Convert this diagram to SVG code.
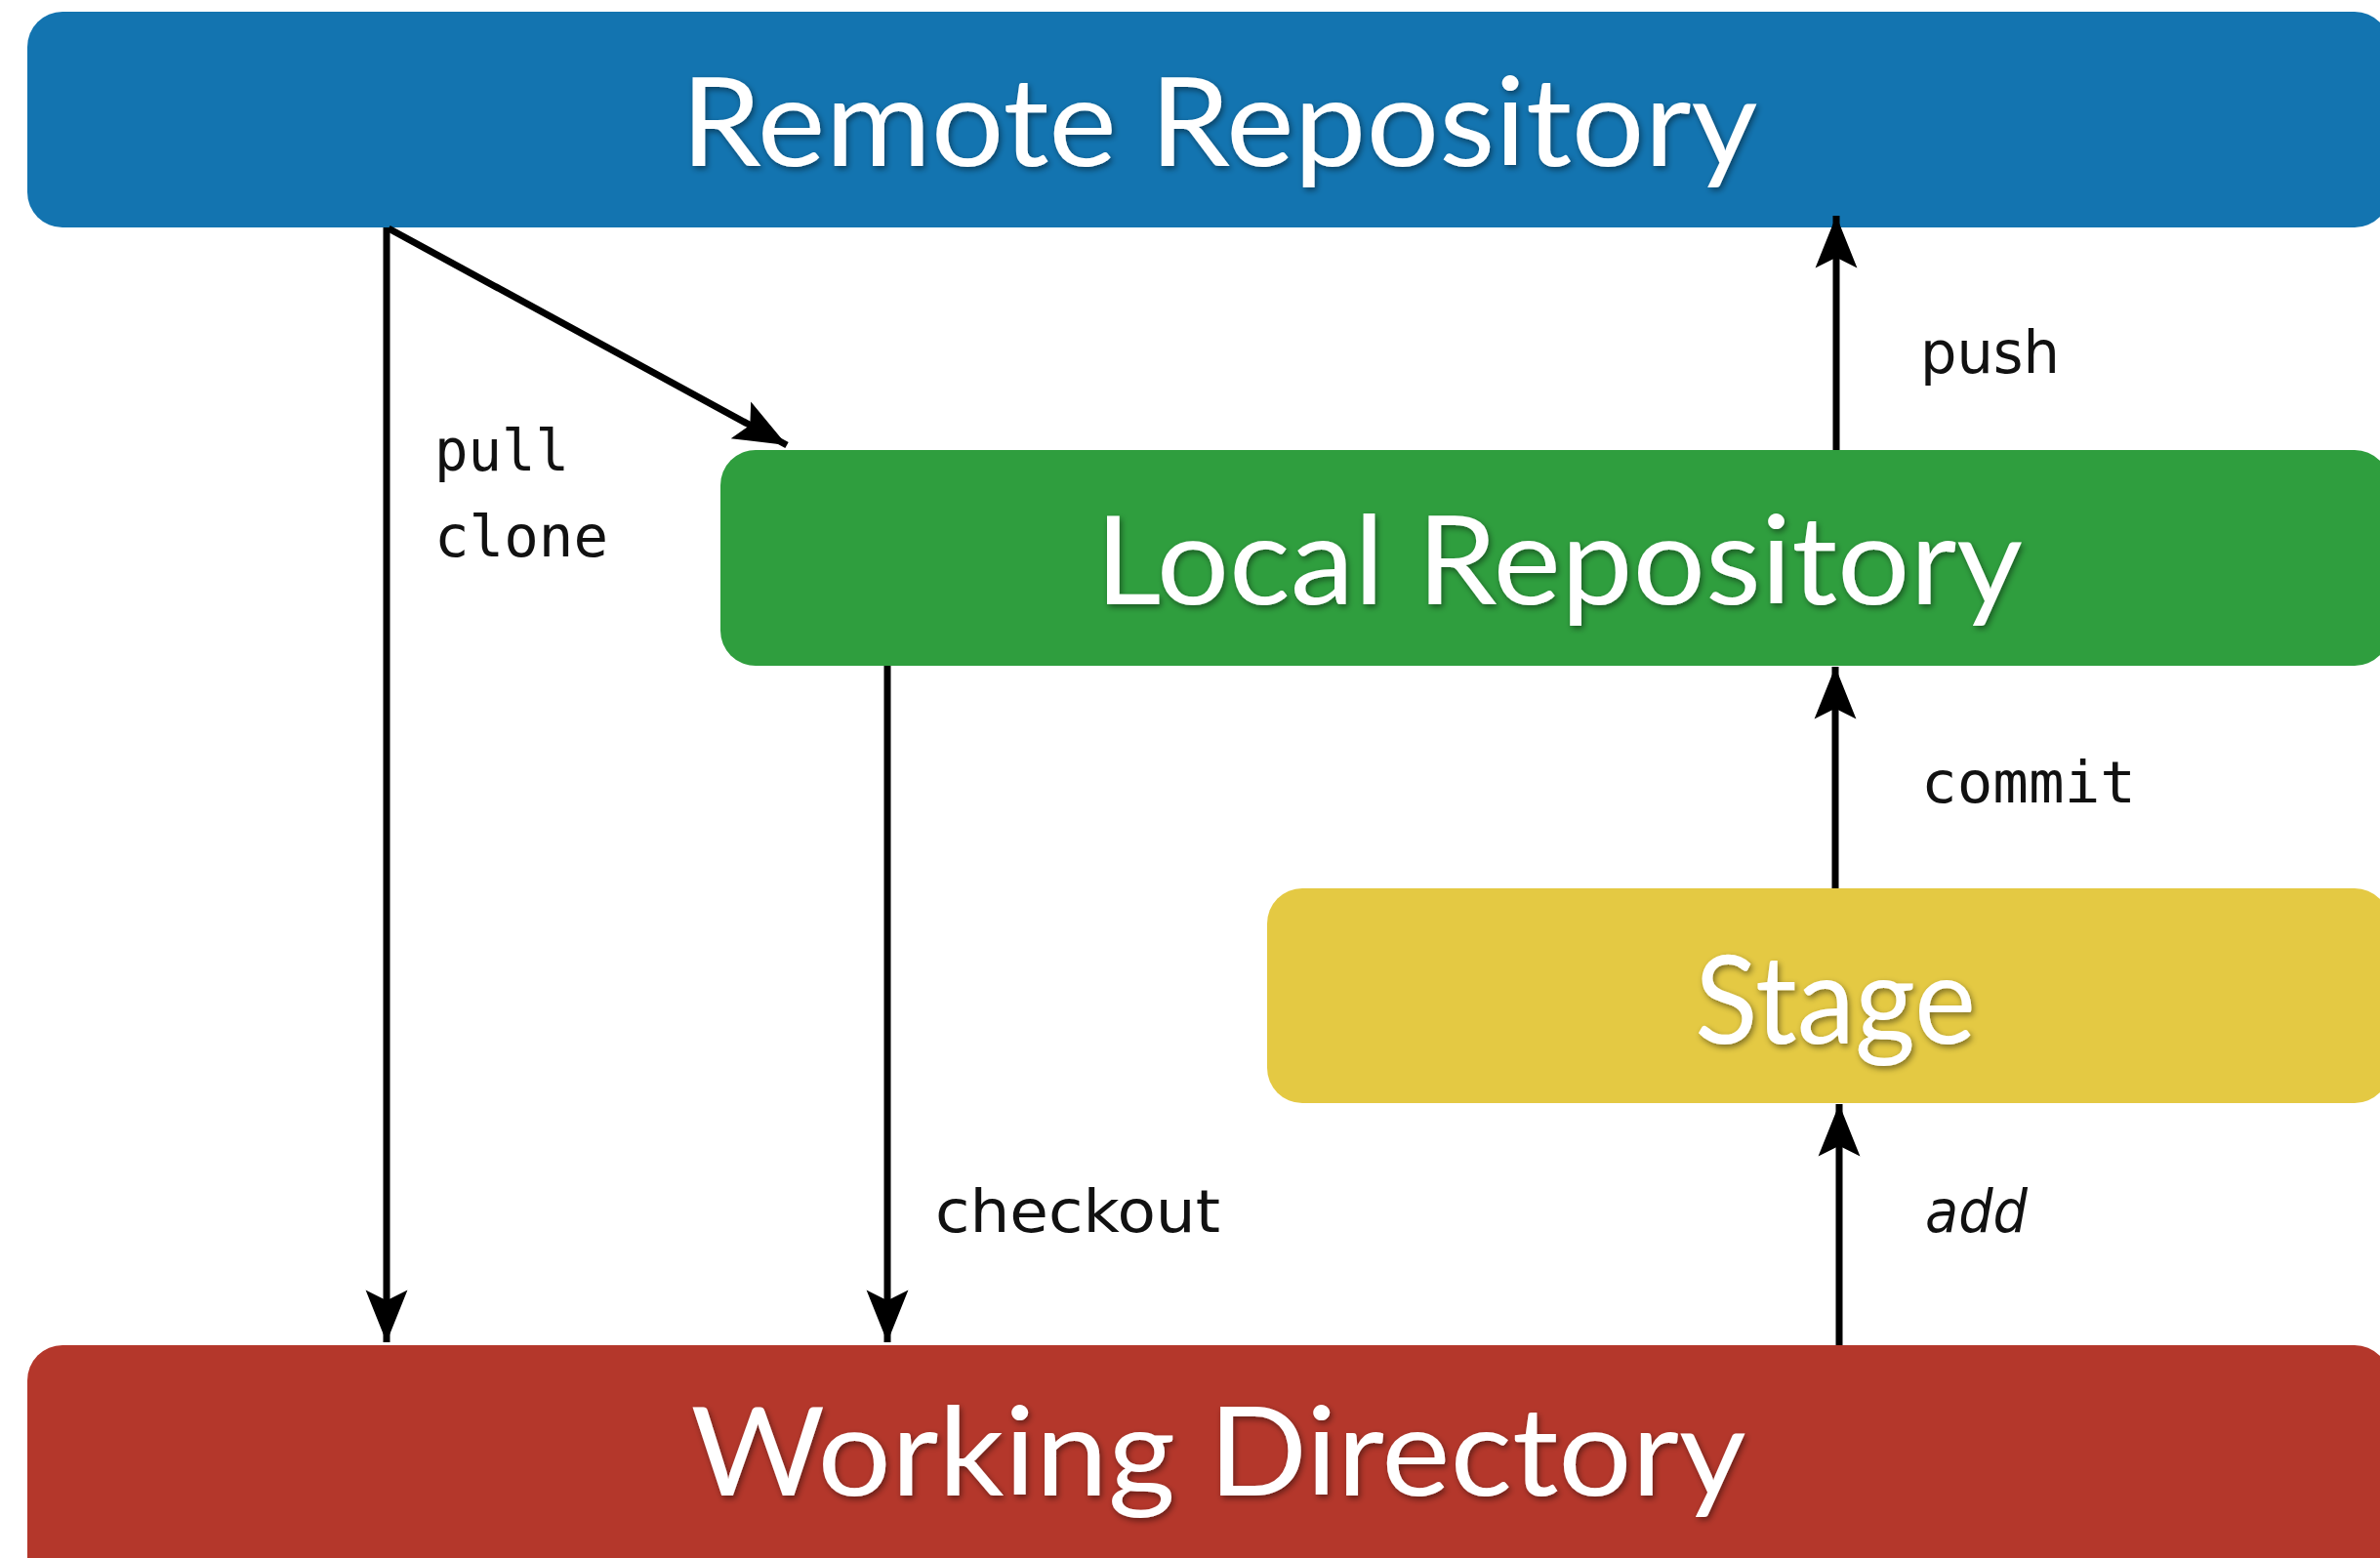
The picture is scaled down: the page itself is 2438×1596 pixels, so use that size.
<svg xmlns="http://www.w3.org/2000/svg" width="2438" height="1596" viewBox="0 0 2438 1596">
<defs>
<style>
.box-title{font-family:Lato,"Open Sans","Liberation Sans",sans-serif;font-size:126px;fill:#ffffff;text-anchor:middle;filter:url(#shadow)}
.mono{font-family:"DejaVu Sans Mono","Liberation Mono",monospace;font-size:58px;fill:#111111}
.sans{font-family:"DejaVu Sans","Liberation Sans",sans-serif;font-size:60px;fill:#111111}
.conn{stroke:#000000;stroke-width:7;fill:none}
</style>
<filter id="shadow" x="-10%" y="-20%" width="120%" height="150%">
<feDropShadow dx="2" dy="3" stdDeviation="3" flood-color="#000000" flood-opacity="0.45"/>
</filter>
<marker id="arrow" markerUnits="userSpaceOnUse" markerWidth="60" markerHeight="60" viewBox="-52 -25 56 50" refX="0" refY="0" orient="auto">
<path d="M0,0 L-50,-20 L-40,0 L-50,20 Z" fill="#000000"/>
</marker>
</defs>
<rect x="0" y="0" width="2438" height="1596" fill="#ffffff"/>

<g id="remote">
<rect x="28" y="12" width="2420" height="221" rx="36" fill="#1374B0"/>
<text class="box-title" x="1249" y="170" textLength="1103" lengthAdjust="spacingAndGlyphs">Remote Repository</text>
</g>

<g id="local">
<rect x="738" y="461" width="1710" height="221" rx="36" fill="#2F9E3E"/>
<text class="box-title" x="1597" y="619" textLength="950" lengthAdjust="spacingAndGlyphs">Local Repository</text>
</g>

<g id="stage">
<rect x="1298" y="910" width="1150" height="220" rx="36" fill="#E4C943"/>
<text class="box-title" x="1880" y="1069" textLength="288" lengthAdjust="spacingAndGlyphs">Stage</text>
</g>

<g id="working">
<rect x="28" y="1378" width="2420" height="260" rx="36" fill="#B4372B"/>
<text class="box-title" x="1248" y="1532" textLength="1081" lengthAdjust="spacingAndGlyphs">Working Directory</text>
</g>

<g id="connectors">
<line class="conn" x1="396" y1="233" x2="396" y2="1375" marker-end="url(#arrow)"/>
<line class="conn" x1="398" y1="234" x2="806" y2="456" marker-end="url(#arrow)"/>
<line class="conn" x1="909" y1="682" x2="909" y2="1375" marker-end="url(#arrow)"/>
<line class="conn" x1="1881" y1="461" x2="1881" y2="221" marker-end="url(#arrow)"/>
<line class="conn" x1="1880" y1="910" x2="1880" y2="683" marker-end="url(#arrow)"/>
<line class="conn" x1="1884" y1="1378" x2="1884" y2="1131" marker-end="url(#arrow)"/>
<text class="mono" x="445" y="482" textLength="138" lengthAdjust="spacingAndGlyphs">pull</text>
<text class="mono" x="445" y="570" textLength="178" lengthAdjust="spacingAndGlyphs">clone</text>
<text class="sans" x="958" y="1262" textLength="292" lengthAdjust="spacingAndGlyphs">checkout</text>
<text class="sans" x="1967" y="382" textLength="143" lengthAdjust="spacingAndGlyphs">push</text>
<text class="mono" x="1968" y="822" font-size="60" textLength="220" lengthAdjust="spacingAndGlyphs">commit</text>
<text class="sans" x="1972" y="1262" font-style="italic" textLength="105" lengthAdjust="spacingAndGlyphs">add</text>
</g>
</svg>
